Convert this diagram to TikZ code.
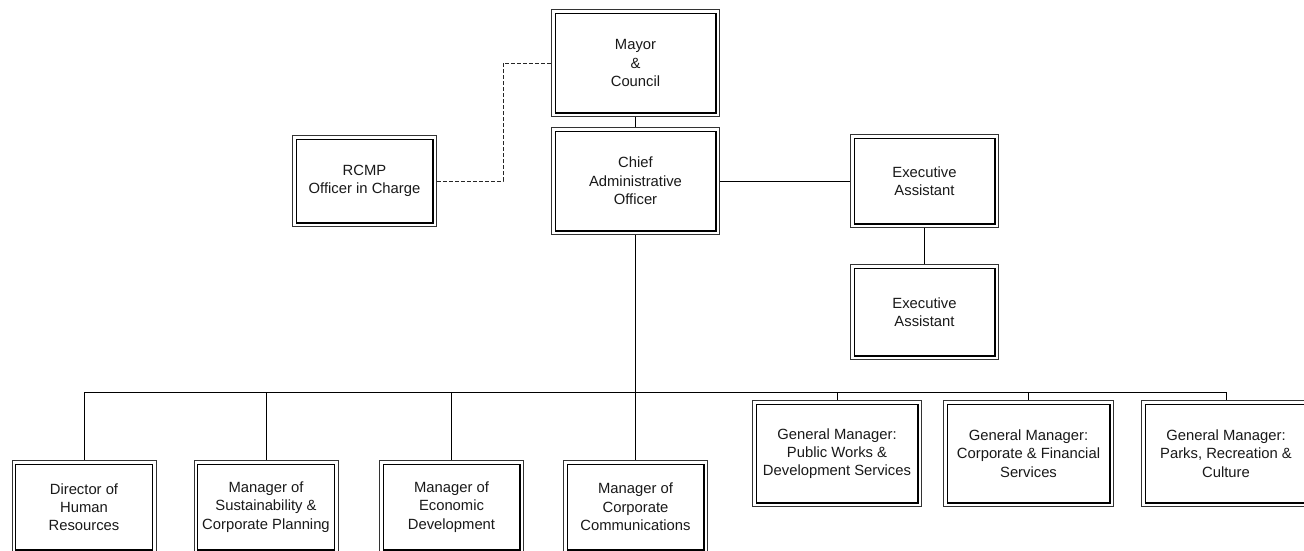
\documentclass[tikz,border=0pt]{standalone}
\usepackage{fontspec}
\setmainfont{Liberation Sans}
\usetikzlibrary{backgrounds}
\begin{document}
\begin{tikzpicture}[x=1pt,y=-1pt,
  dbox/.style={draw=black!80, line width=0.8pt, fill=white,
    inner sep=0pt, align=center, text=black!90,
    font=\fontsize{14.8}{18.3}\selectfont},
  box/.style 2 args={dbox, minimum width=#1, minimum height=#2},
  inner/.style={draw=black, line width=1.2pt},
  link/.style={draw=black, line width=1pt},
  dashline/.style={draw=black!85, line width=1pt, dash pattern=on 4pt off 2pt}]
\useasboundingbox (0,0) rectangle (1304,550);
\clip (0,0) rectangle (1304,550);

% top of the chart
\node[box={168pt}{107pt}] (mayor) at (635.5,63) {Mayor\\\&\\Council};
\node[box={168pt}{107pt}] (cao) at (635.5,181) {Chief\\Administrative\\Officer};
\node[box={144pt}{91pt}] (rcmp) at (364.5,181) {RCMP\\Officer in Charge};
\node[box={148pt}{93pt}] (ea1) at (924.5,181) {Executive\\Assistant};
\node[box={148pt}{95pt}] (ea2) at (924.5,312) {Executive\\Assistant};

% managers reporting to the CAO
\node[box={144pt}{93pt}] (hr) at (84,507) {Director of\\Human\\Resources};
\node[box={144pt}{93pt}] (sus) at (266,507) {Manager of\\Sustainability \&\\Corporate Planning};
\node[box={144pt}{93pt}] (eco) at (451.5,507) {Manager of\\Economic\\Development};
\node[box={144pt}{93pt}] (com) at (635.5,507) {Manager of\\Corporate\\Communications};
\node[box={169pt}{106pt}] (gm1) at (837,453.5) {General Manager:\\Public Works \&\\Development Services};
\node[box={170pt}{106pt}] (gm2) at (1028.5,453.5) {General Manager:\\Corporate \& Financial\\Services};
\node[box={169pt}{106pt}] (gm3) at (1226,453.5) {General Manager:\\Parks, Recreation \&\\Culture};

% inner line of each double border
\foreach \n in {mayor,cao,rcmp,ea1,ea2,hr,sus,eco,com,gm1,gm2,gm3}
  \draw[inner] ([shift={(4,4)}]\n.north west) rectangle ([shift={(-4,-4)}]\n.south east);

\coordinate (bus) at (635.5,392);
\coordinate (dk) at (503,63);

\begin{pgfonlayer}{background}
  \draw[link] (mayor.south) -- (cao.north);
  \draw[link] (cao.east) -- (ea1.west);
  \draw[link] (ea1.south) -- (ea2.north);
  \draw[dashline] (rcmp.east) -| (dk) -- (mayor.west);
  \draw[link] (cao.south) -- (bus);
  \draw[link] (hr.north |- bus) -- (gm3.north |- bus);
  \foreach \n in {hr,sus,eco,com,gm1,gm2,gm3}
    \draw[link] (\n.north) -- (\n.north |- bus);
\end{pgfonlayer}
\end{tikzpicture}
\end{document}
